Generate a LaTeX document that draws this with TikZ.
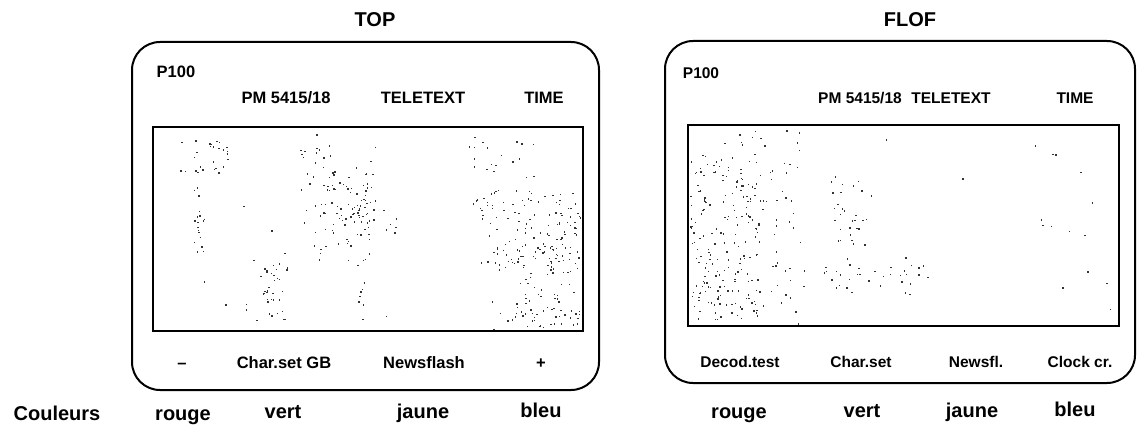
\documentclass[tikz,border=0pt]{standalone}
\usepackage{fontspec}
\setmainfont{Liberation Sans}
\newcommand\dotcluster[5]{%
  \foreach \ci in {1,...,#5}{%
    \pgfmathsetmacro\cdx{#1+rnd*#3}%
    \pgfmathsetmacro\cdy{#2+rnd*#4}%
    \fill[dotcol] (\cdx,\cdy) rectangle ++(1.4,1.4);%
  }}
\begin{document}
\begin{tikzpicture}[x=1pt,y=-1pt,
  lab/.style={font=\bfseries\fontsize{15.5}{18}\selectfont, inner sep=0pt, anchor=base},
  labl/.style={font=\bfseries\fontsize{16.5}{19}\selectfont, inner sep=0pt, anchor=base},
  ttl/.style={font=\bfseries\fontsize{20}{24}\selectfont, inner sep=0pt, anchor=base},
  panel/.style={draw, line width=2pt, rounded corners=28pt},
  screen/.style={draw, line width=1.6pt}]
\colorlet{dotcol}{black!80}
\useasboundingbox (0,0) rectangle (1139,425);
\pgfmathsetseed{4711}

% ---------------- TOP panel ----------------
\node[ttl] (toptitle) at (375,27) {TOP};
\draw[panel] (132,42) rectangle (599,390);
\node[labl] (tp100) at (176,78) {P100};
\node[labl] (tpm) at (286,104) {PM 5415/18};
\node[labl] (ttele) at (423,104) {TELETEXT};
\node[labl] (ttime) at (544,104) {TIME};
\draw[screen] (153,127) rectangle (583,331);
\dotcluster{180}{138}{48}{35}{30}
\dotcluster{193}{186}{12}{70}{18}
\dotcluster{300}{145}{75}{120}{60}
\dotcluster{320}{175}{50}{60}{60}
\dotcluster{383}{208}{14}{30}{6}
\dotcluster{358}{265}{8}{60}{8}
\dotcluster{243}{255}{45}{65}{22}
\dotcluster{262}{262}{20}{40}{15}
\dotcluster{467}{138}{70}{80}{30}
\dotcluster{480}{190}{100}{80}{120}
\dotcluster{510}{250}{70}{78}{60}
\dotcluster{490}{300}{90}{29}{20}
\dotcluster{155}{130}{425}{198}{15}
\node[labl] (tred) at (182,368) {–};
\node[labl] (tgreen) at (284,368) {Char.set GB};
\node[labl] (tyellow) at (424,368) {Newsflash};
\node[labl] (tblue) at (541,368) {+};

% ---------------- FLOF panel ----------------
\node[ttl] (floftitle) at (910,27) {FLOF};
\draw[panel] (665,41) rectangle (1135,383);
\node[lab] (fp100) at (701,79) {P100};
\node[lab] (fpm) at (860,103) {PM 5415/18};
\node[lab] (ftele) at (951,103) {TELETEXT};
\node[lab] (ftime) at (1075,103) {TIME};
\draw[screen] (688,125) rectangle (1119,326);
\dotcluster{690}{130}{115}{190}{120}
\dotcluster{690}{160}{70}{160}{130}
\dotcluster{830}{175}{42}{70}{30}
\dotcluster{820}{255}{108}{40}{35}
\dotcluster{1020}{130}{97}{194}{12}
\dotcluster{690}{127}{427}{197}{10}
\node[lab] (fred) at (740,367) {Decod.test};
\node[lab] (fgreen) at (861,367) {Char.set};
\node[lab] (fyellow) at (976,367) {Newsfl.};
\node[lab] (fblue) at (1080,367) {Clock cr.};

% ---------------- colour names ----------------
\node[ttl] (couleurs) at (57,420) {Couleurs};
\node[ttl] (lrouge) at (183,420) {rouge};
\node[ttl] (lvert) at (283,418) {vert};
\node[ttl] (ljaune) at (423,418) {jaune};
\node[ttl] (lbleu) at (541,417) {bleu};
\node[ttl] (rrouge) at (739,418) {rouge};
\node[ttl] (rvert) at (862,417) {vert};
\node[ttl] (rjaune) at (972,417) {jaune};
\node[ttl] (rbleu) at (1075,416) {bleu};
\end{tikzpicture}
\end{document}
